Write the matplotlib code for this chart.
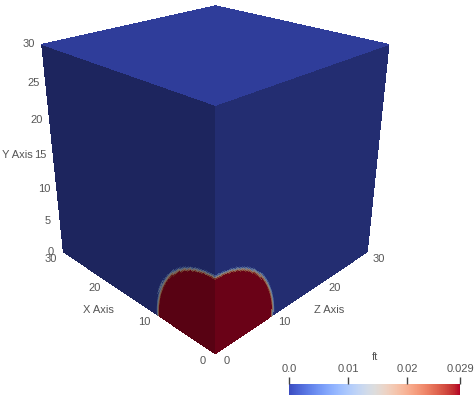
import numpy as np
import matplotlib
matplotlib.use("Agg")
import matplotlib.pyplot as plt
from matplotlib import cm, colors
from mpl_toolkits.mplot3d import proj3d

# cube extent and tick values (ParaView-style axes grid)
AXIS_MAX = 30.0
X_TICKS = [0, 10, 20, 30]
Z_TICKS = [0, 10, 20, 30]
Y_TICKS = [0, 5, 10, 15, 20, 25, 30]

# field "ft": droplet sitting in the corner at the origin
FT_MIN, FT_MAX = 0.0, 0.029
DROP_CENTER = (0.0, 0.7, 0.0)   # (X, Y, Z)
DROP_RADIUS = 9.6
INTERFACE_WIDTH = 0.6

CBAR_TICKS = [0.0, 0.01, 0.02, 0.029]
CBAR_LABELS = ["0.0", "0.01", "0.02", "0.029"]

# fake lighting per visible face
SHADE_TOP, SHADE_LEFT, SHADE_RIGHT = 0.80, 0.49, 0.59

TEXT_COLOR = "#555555"
FONT = "Liberation Sans"
FS = 8

plt.rcParams["font.family"] = [FONT, "DejaVu Sans"]

cmap = matplotlib.colormaps["coolwarm"]
norm = colors.Normalize(FT_MIN, FT_MAX)


def ft(X, Y, Z):
    d = np.sqrt((X - DROP_CENTER[0]) ** 2 + (Y - DROP_CENTER[1]) ** 2 + (Z - DROP_CENTER[2]) ** 2)
    t = np.clip((DROP_RADIUS - d) / INTERFACE_WIDTH + 0.5, 0, 1)
    return FT_MIN + (FT_MAX - FT_MIN) * t


def face_colors(vals, shade):
    rgba = cmap(norm(vals))
    rgba[..., :3] *= shade
    return rgba


fig = plt.figure(figsize=(4.74, 3.96), dpi=100)
ax = fig.add_axes([-0.057, 0.095, 1, 1], projection="3d")

n = 150
g = np.linspace(0, AXIS_MAX, n)
A, B = np.meshgrid(g, g)
zero = np.zeros_like(A)
full = np.full_like(A, AXIS_MAX)

# matplotlib axes: x <- Z, y <- X, z <- Y (vertical)
# left face: Z = 0
v = ft(A, B, zero)
ax.plot_surface(zero, A, B, facecolors=face_colors(v, SHADE_LEFT), rstride=1, cstride=1,
                linewidth=0, antialiased=False, shade=False)
# right face: X = 0
v = ft(zero, B, A)
ax.plot_surface(A, zero, B, facecolors=face_colors(v, SHADE_RIGHT), rstride=1, cstride=1,
                linewidth=0, antialiased=False, shade=False)
# top face: Y = 30
v = ft(B, full, A)
ax.plot_surface(A, B, full, facecolors=face_colors(v, SHADE_TOP), rstride=1, cstride=1,
                linewidth=0, antialiased=False, shade=False)

ax.set_xlim(0, AXIS_MAX)
ax.set_ylim(0, AXIS_MAX)
ax.set_zlim(0, AXIS_MAX)
ax.set_box_aspect((1, 1, 0.99), zoom=0.97)
ax.set_proj_type("persp", focal_length=0.33)
ax.view_init(elev=24.5, azim=-135)
ax.set_axis_off()

M = ax.get_proj()


def label3d(x, y, z, s, dx=0, dy=0, **kw):
    px, py, _ = proj3d.proj_transform(x, y, z, M)
    ax.annotate(s, xy=(px, py), xycoords="data", xytext=(dx, dy), textcoords="offset points",
                ha="center", va="center", color=TEXT_COLOR, fontsize=FS, **kw)


for t in X_TICKS:
    label3d(0, t, 0, str(t), dx=-9, dy=-5)
for t in Z_TICKS:
    label3d(t, 0, 0, str(t), dx=8, dy=-5)
for t in Y_TICKS:
    label3d(0, AXIS_MAX, t, str(t), dx=-9, dy=0)

label3d(0, 20, 0, "X Axis", dx=-6, dy=-21)
label3d(20, 0, 0, "Z Axis", dx=4, dy=-21)
label3d(0, AXIS_MAX, 15, "Y Axis", dx=-26, dy=0)

# colour bar
cax = fig.add_axes([289 / 474, 1 / 396, 171 / 474, 11 / 396])
sm = cm.ScalarMappable(norm=norm, cmap=cmap)
cb = fig.colorbar(sm, cax=cax, orientation="horizontal", ticks=CBAR_TICKS)
cb.outline.set_visible(False)
cax.xaxis.set_ticks_position("top")
cax.set_xticklabels(CBAR_LABELS)
cax.tick_params(axis="x", direction="out", length=5, width=1, color="#444444",
                labelcolor=TEXT_COLOR, labelsize=FS, pad=2)
cax.set_title("ft", fontsize=FS, color=TEXT_COLOR, pad=3)

fig.savefig("out.png", dpi=100)
